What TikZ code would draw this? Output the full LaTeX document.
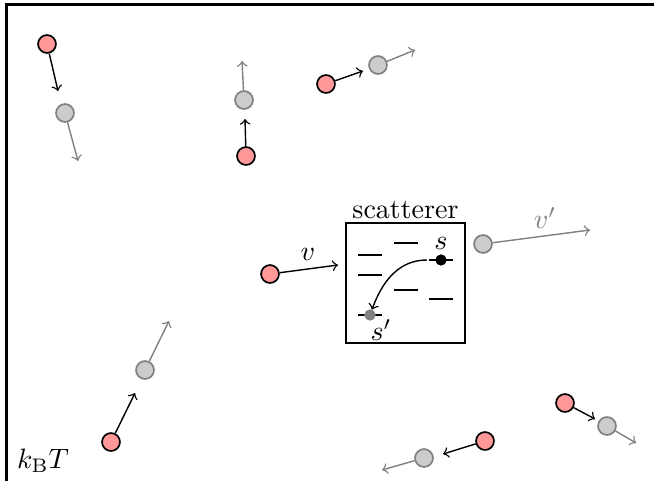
\documentclass[tikz,border=0pt]{standalone}
\begin{document}
\begin{tikzpicture}[x=0.35714pt,y=-0.35714pt,
  redball/.style={circle, draw=black, fill=red!40, line width=0.6pt, minimum size=6.4pt, inner sep=0pt},
  grayball/.style={circle, draw=black!50, fill=black!20, line width=0.6pt, minimum size=6.4pt, inner sep=0pt},
  inarrow/.style={->, line width=0.5pt, black},
  outarrow/.style={->, line width=0.5pt, black!50},
  lvl/.style={line width=0.5pt},
  dotstate/.style={circle, draw=black, fill=black, minimum size=3.6pt, inner sep=0pt, line width=0.4pt},
  dotgray/.style={circle, draw=black!50, fill=black!50, minimum size=3.6pt, inner sep=0pt, line width=0.4pt}]
\useasboundingbox (0,0) rectangle (654,480);
% frame
\draw[line width=1.1pt] (6.5,485) -- (6.5,4.5) -- (660,4.5);

% particle pair 1
\node[redball] (r1) at (47,44) {};
\coordinate (a1) at (58,91);
\node[grayball] (g1) at (65,113) {};
\coordinate (b1) at (78,161);
\draw[inarrow] (r1) -- (a1);
\draw[outarrow] (g1) -- (b1);

% pair 2
\node[redball] (r2) at (246,156) {};
\coordinate (a2) at (245,119);
\node[grayball] (g2) at (244,100) {};
\coordinate (b2) at (242,61);
\draw[inarrow] (r2) -- (a2);
\draw[outarrow] (g2) -- (b2);

% pair 3
\node[redball] (r3) at (326,84) {};
\coordinate (a3) at (363,71);
\node[grayball] (g3) at (378,65) {};
\coordinate (b3) at (415,50);
\draw[inarrow] (r3) -- (a3);
\draw[outarrow] (g3) -- (b3);

% bottom-left pair
\node[redball] (r4) at (111,442) {};
\coordinate (a4) at (135,393);
\node[grayball] (g4) at (145,370) {};
\coordinate (b4) at (169,321);
\draw[inarrow] (r4) -- (a4);
\draw[outarrow] (g4) -- (b4);

% bottom pair A
\node[redball] (r5) at (485,441) {};
\coordinate (a5) at (443,454);
\node[grayball] (g5) at (424,458) {};
\coordinate (b5) at (382,470);
\draw[inarrow] (r5) -- (a5);
\draw[outarrow] (g5) -- (b5);

% bottom pair B
\node[redball] (r6) at (565,403) {};
\coordinate (a6) at (595,419);
\node[grayball] (g6) at (607,426) {};
\coordinate (b6) at (636,443);
\draw[inarrow] (r6) -- (a6);
\draw[outarrow] (g6) -- (b6);

% scatterer
\node[draw, line width=0.5pt, minimum width=119*0.35714pt, minimum height=120*0.35714pt, inner sep=0pt] (box) at (405.5,283) {};
\node[anchor=south, inner sep=1pt] (lab) at (box.north) {scatterer};

% levels
\draw[lvl] (358,255) -- (382,255);
\draw[lvl] (358,275) -- (382,275);
\draw[lvl] (394,243) -- (418,243);
\draw[lvl] (394,290) -- (418,290);
\draw[lvl] (429,299) -- (453,299);
\draw[lvl] (429,260) -- (453,260);
\draw[lvl] (358,315) -- (382,315);
\node[dotstate] (s) at (441,260) {};
\node[dotgray] (sp) at (370,315) {};
\node (slab) at (441,243) {$s$};
\node (splab) at (381,330) {$s'$};
\coordinate (cs) at (427,260);
\draw[->, line width=0.5pt] (cs) to[out=180, in=70] (sp);

% incoming / outgoing
\node[redball] (r0) at (270,274) {};
\coordinate (a0) at (338,265);
\draw[inarrow] (r0) -- (a0);
\node (vlab) at (308,254) {$v$};
\node[grayball] (g0) at (483,244) {};
\coordinate (b0) at (590,230);
\draw[outarrow] (g0) -- (b0);
\node[text=black!50] (vplab) at (545,218) {$v'$};

\node (kt) at (43,461) {$k_\mathrm{B}T$};
\end{tikzpicture}
\end{document}
